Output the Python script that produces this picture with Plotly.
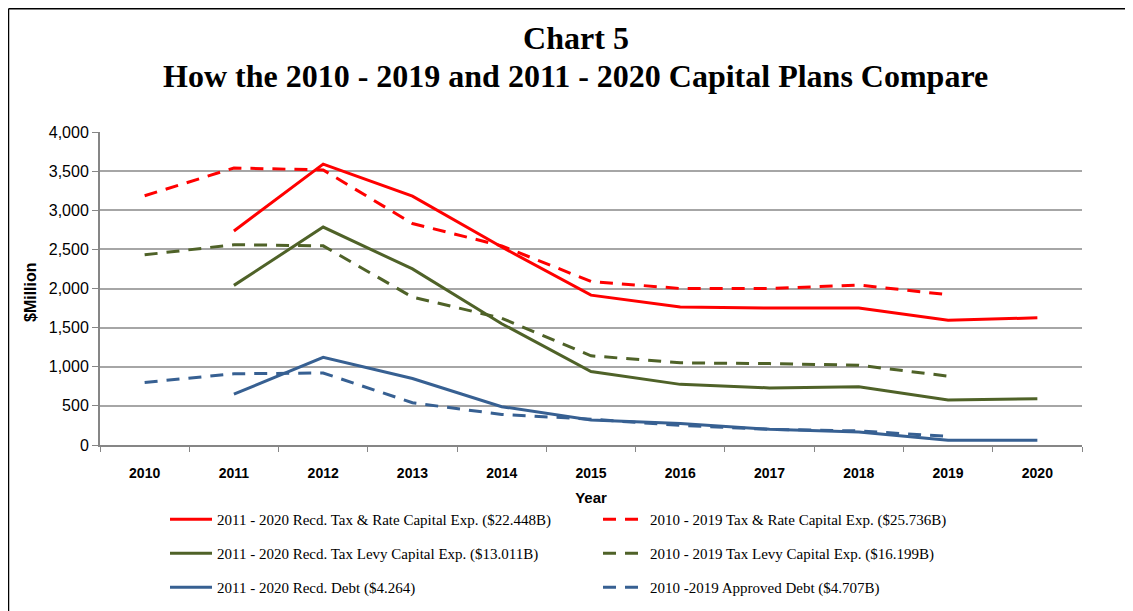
import plotly.graph_objects as go

years = ["2010", "2011", "2012", "2013", "2014", "2015", "2016", "2017", "2018", "2019", "2020"]

tr_2011_2020 = [None, 2735, 3590, 3180, 2530, 1915, 1765, 1750, 1750, 1595, 1625]
tr_2010_2019 = [3185, 3540, 3515, 2830, 2545, 2090, 2000, 2000, 2045, 1920, None]
levy_2011_2020 = [None, 2040, 2785, 2250, 1550, 940, 775, 730, 745, 575, 590]
levy_2010_2019 = [2430, 2560, 2545, 1890, 1620, 1140, 1050, 1040, 1020, 880, None]
debt_2011_2020 = [None, 650, 1120, 850, 490, 320, 275, 200, 165, 60, 60]
debt_2010_2019 = [800, 910, 920, 540, 390, 330, 250, 200, 180, 110, None]

names = [
    "2011 - 2020 Recd. Tax & Rate Capital Exp. ($22.448B)",
    "2010 - 2019 Tax & Rate Capital Exp. ($25.736B)",
    "2011 - 2020 Recd. Tax Levy Capital Exp. ($13.011B)",
    "2010 - 2019 Tax Levy Capital Exp. ($16.199B)",
    "2011 - 2020 Recd. Debt ($4.264)",
    "2010 -2019 Approved Debt ($4.707B)",
]

title_line1 = "Chart 5"
title_line2 = "How the 2010 - 2019 and 2011 - 2020 Capital Plans Compare"

RED = "#ff0000"
GREEN = "#4f6228"
BLUE = "#376092"
DASH = "13px,9px"

series = [
    (tr_2011_2020, RED, "solid", "legend"),
    (tr_2010_2019, RED, DASH, "legend2"),
    (levy_2011_2020, GREEN, "solid", "legend"),
    (levy_2010_2019, GREEN, DASH, "legend2"),
    (debt_2011_2020, BLUE, "solid", "legend"),
    (debt_2010_2019, BLUE, DASH, "legend2"),
]

fig = go.Figure()
for i, (vals, col, dash, leg) in enumerate(series):
    fig.add_trace(go.Scatter(
        x=years, y=vals, mode="lines", name=names[i],
        line=dict(color=col, width=3, dash=dash),
        legend=leg, legendgroup=f"g{i}",
        connectgaps=False,
    ))

# figure is placed at an 8px page offset, so work in figure pixels
OFF = 8
W, H = 1133 - OFF, 611 - OFF
L = 100 - OFF
T = 132 - OFF
R = W - (1082 - OFF)
B = H - (445 - OFF)
pw = W - L - R
ph = H - T - B


def px_x(p):
    return (p - OFF - L) / pw


def px_y(p):
    return (H - B - (p - OFF)) / ph


def cy(p):
    return 1 - (p - OFF) / H


def cx(p):
    return (p - OFF) / W


serif = "Liberation Serif, Times New Roman, serif"
sans = "Liberation Sans, Arial, sans-serif"
legend_font = dict(family=serif, size=15, color="black")

fig.update_layout(
    width=W, height=H,
    margin=dict(l=L, r=R, t=T, b=B, autoexpand=False),
    paper_bgcolor="white", plot_bgcolor="white",
    title=dict(
        text=title_line1,
        font=dict(family=serif, size=32, color="black", weight="bold"),
        x=cx(576), xanchor="center", xref="container", yref="container",
        y=cy(38), yanchor="middle",
    ),
    xaxis=dict(
        type="category", range=[-0.5, 10.5],
        tickson="boundaries", ticks="outside", ticklen=5, tickcolor="#868686",
        showline=True, linecolor="#868686", linewidth=2,
        showgrid=False, ticklabelstandoff=14,
        tickfont=dict(family=sans, size=14, color="black", weight="bold"),
        title=dict(text="Year", font=dict(family=sans, size=15, color="black", weight="bold"), standoff=13),
    ),
    yaxis=dict(
        range=[0, 4000], dtick=500, tickformat=",",
        ticks="outside", ticklen=6, tickcolor="#868686",
        showline=True, linecolor="#868686", linewidth=2,
        showgrid=True, gridcolor="#a6a6a6", gridwidth=1.5,
        zeroline=False,
        tickfont=dict(family=sans, size=16, color="black"),
    ),
    legend=dict(
        xref="container", yref="container",
        x=cx(165), y=cy(503), xanchor="left", yanchor="top",
        orientation="v", font=legend_font, tracegroupgap=11.5,
        bgcolor="rgba(0,0,0,0)", itemwidth=42,
    ),
    legend2=dict(
        xref="container", yref="container",
        x=cx(598), y=cy(503), xanchor="left", yanchor="top",
        orientation="v", font=legend_font, tracegroupgap=11.5,
        bgcolor="rgba(0,0,0,0)", itemwidth=42,
    ),
    annotations=[
        dict(text=title_line2, xref="paper", yref="paper", x=px_x(575),
             y=px_y(76), xanchor="center", yanchor="middle", showarrow=False,
             font=dict(family=serif, size=32, color="black", weight="bold")),
        dict(text="$Million", xref="paper", yref="paper", x=px_x(30), y=px_y(292),
             xanchor="center", yanchor="middle", textangle=-90, showarrow=False,
             font=dict(family=sans, size=16, color="black", weight="bold")),
    ],
    shapes=[
        dict(type="line", xref="paper", yref="paper",
             x0=px_x(8.5), x1=px_x(8.5), y0=px_y(640), y1=px_y(8.7),
             line=dict(color="black", width=1.5)),
        dict(type="line", xref="paper", yref="paper",
             x0=px_x(8.5), x1=px_x(1160), y0=px_y(8.7), y1=px_y(8.7),
             line=dict(color="black", width=1.5)),
    ],
)

fig.write_html("out.html")
